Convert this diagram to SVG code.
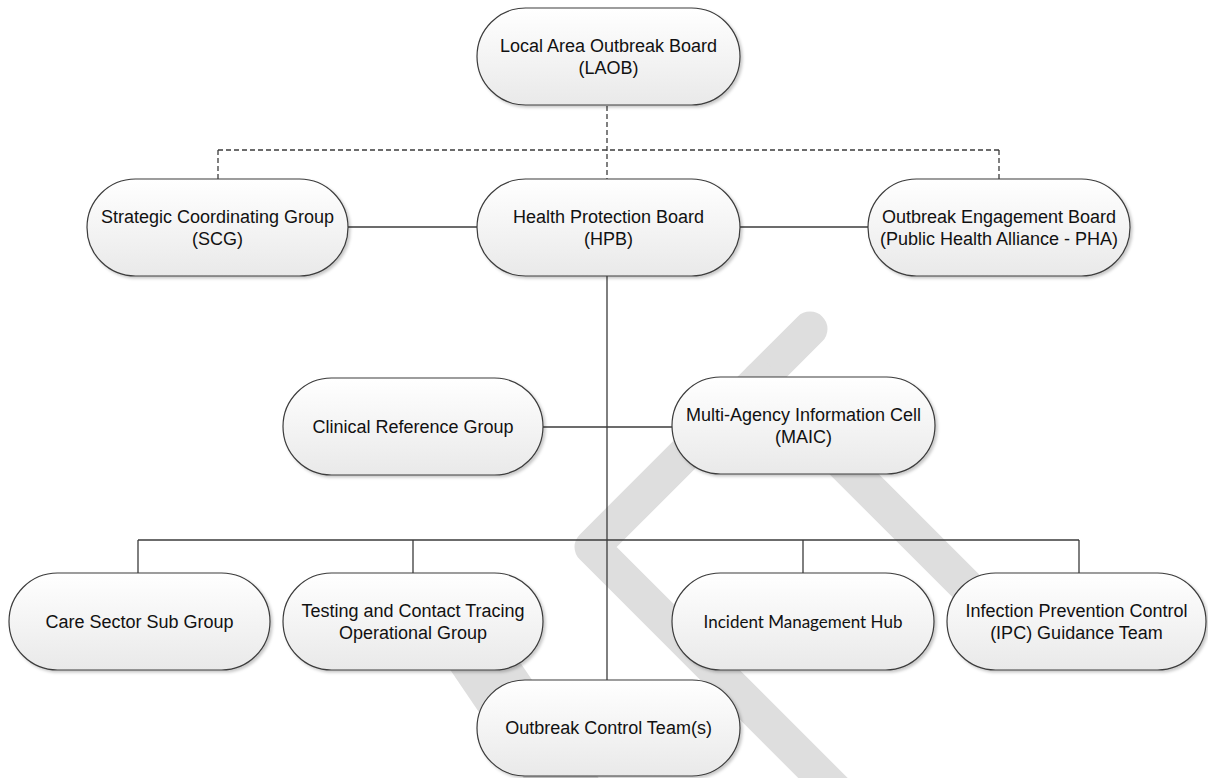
<svg xmlns="http://www.w3.org/2000/svg" width="1208" height="778" viewBox="0 0 1208 778">
<defs>
<linearGradient id="g" x1="0" y1="0" x2="0" y2="1">
<stop offset="0" stop-color="#ffffff"/>
<stop offset="1" stop-color="#e9e9e9"/>
</linearGradient>
<filter id="sh" x="-10%" y="-10%" width="125%" height="130%">
<feDropShadow dx="2" dy="2" stdDeviation="1.5" flood-color="#000" flood-opacity="0.22"/>
</filter>
<style>
.n rect{fill:url(#g);stroke:#3c3c3c;stroke-width:1.2;filter:url(#sh)}
.n text{font-family:"Liberation Sans",Arial,sans-serif;font-size:18px;fill:#111;text-anchor:middle}
.n text.c{font-family:Lato,"Open Sans",sans-serif;font-size:17px}
.l{stroke:#3c3c3c;stroke-width:1.3;fill:none}
.d{stroke:#3c3c3c;stroke-width:1.3;fill:none;stroke-dasharray:5 3}
.w{stroke:#dedede;stroke-width:35;fill:none;stroke-linecap:round;stroke-linejoin:round}
</style>
</defs>
<rect width="1208" height="778" fill="#ffffff"/>
<g id="watermark">
<polyline class="w" points="810,329 592,547 845,800"/>
<line class="w" x1="759.5" y1="379.5" x2="1030" y2="650"/>
<polygon points="430,640 505,640 600,780 525,780" fill="#dedede"/>
</g>
<g id="connectors">
<path class="d" d="M607,106 V179 M218,150 H999 M218,150 V179 M999,150 V179"/>
<path class="l" d="M348,227 H477 M740,227 H868 M607,276 V680 M543,427 H672 M138,540 H1079 M138,540 V573 M413,540 V573 M803,540 V573 M1079,540 V573"/>
</g>
<g id="laob" class="n"><rect x="477" y="8" width="263" height="97" rx="48.5"/><text x="608.5" y="52">Local Area Outbreak Board</text><text x="608.5" y="74">(LAOB)</text></g>
<g id="scg" class="n"><rect x="87" y="179" width="261" height="97" rx="48.5"/><text x="217.5" y="223">Strategic Coordinating Group</text><text x="217.5" y="245">(SCG)</text></g>
<g id="hpb" class="n"><rect x="477" y="179" width="263" height="97" rx="48.5"/><text x="608.5" y="223">Health Protection Board</text><text x="608.5" y="245">(HPB)</text></g>
<g id="oeb" class="n"><rect x="868" y="179" width="262" height="97" rx="48.5"/><text x="999" y="223">Outbreak Engagement Board</text><text x="999" y="245">(Public Health Alliance - PHA)</text></g>
<g id="crg" class="n"><rect x="283" y="378" width="260" height="97" rx="48.5"/><text x="413" y="433">Clinical Reference Group</text></g>
<g id="maic" class="n"><rect x="672" y="377" width="263" height="97" rx="48.5"/><text x="803.5" y="421">Multi-Agency Information Cell</text><text x="803.5" y="443">(MAIC)</text></g>
<g id="care" class="n"><rect x="9" y="573" width="261" height="97" rx="48.5"/><text x="139.5" y="628">Care Sector Sub Group</text></g>
<g id="tct" class="n"><rect x="283" y="573" width="260" height="97" rx="48.5"/><text x="413" y="617">Testing and Contact Tracing</text><text x="413" y="639">Operational Group</text></g>
<g id="imh" class="n"><rect x="672" y="573" width="262" height="97" rx="48.5"/><text class="c" x="803" y="628">Incident Management Hub</text></g>
<g id="ipc" class="n"><rect x="947" y="573" width="259" height="97" rx="48.5"/><text x="1076.5" y="617">Infection Prevention Control</text><text x="1076.5" y="639">(IPC) Guidance Team</text></g>
<g id="oct" class="n"><rect x="477" y="680" width="263" height="96" rx="48"/><text x="608.5" y="734">Outbreak Control Team(s)</text></g>
</svg>
